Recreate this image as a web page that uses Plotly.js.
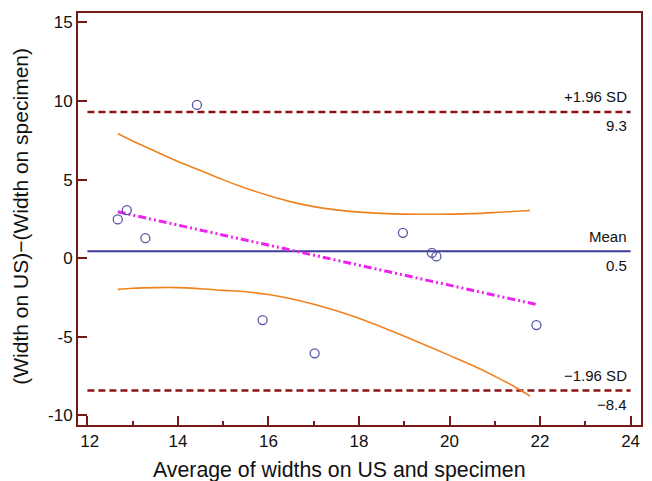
<!DOCTYPE html>
<html>
<head>
<meta charset="utf-8">
<script src="https://cdn.plot.ly/plotly-3.0.1.min.js"></script>
<style>html,body{margin:0;padding:0;background:#fff;}#chart{width:652px;height:481px;}</style>
</head>
<body>
<div id="chart"></div>
<script>
// Observations: average of the two widths (x) and their difference (y)
var avgWidth = [12.67, 12.87, 13.28, 14.42, 15.87, 17.02, 18.97, 19.61, 19.71, 21.92];
var diffWidth = [2.46, 3.05, 1.27, 9.75, -3.94, -6.06, 1.61, 0.34, 0.11, -4.26];

// Mean difference and limits of agreement
var meanDiff = 0.44;
var upperLoA = 9.30;
var lowerLoA = -8.42;
var limitSpan = [12, 24];
var limitTitles = ["+1.96 SD", "Mean", "\u22121.96 SD"];
var limitValues = ["9.3", "0.5", "\u22128.4"];

// Regression line of difference on average
var regX = [12.67, 21.92];
var regY = [2.95, -2.95];

// Confidence curves of the regression line
var ciX = [12.67, 13.0, 13.5, 14.0, 14.5, 15.0, 15.5, 16.0, 16.5, 17.0, 17.5, 18.0, 18.5, 19.0, 19.5, 20.0, 20.5, 21.0, 21.4, 21.78];
var ciUpperY = [7.93, 7.45, 6.80, 6.15, 5.58, 4.98, 4.45, 3.98, 3.58, 3.28, 3.07, 2.93, 2.85, 2.80, 2.79, 2.80, 2.83, 2.90, 2.97, 3.03];
var ciLowerY = [-1.99, -1.92, -1.88, -1.88, -1.95, -2.05, -2.14, -2.32, -2.58, -2.93, -3.35, -3.83, -4.38, -4.97, -5.57, -6.19, -6.82, -7.52, -8.12, -8.78];

// Axis ticks
var xTickVals = [12, 14, 16, 18, 20, 22, 24];
var xTickText = ["\u00a012", "14", "16", "18", "20", "22", "24"];
var yTickVals = [-10, -5, 0, 5, 10, 15];
var yTickText = ["-10", "-5", "0", "5", "10", "15"];

// Axis titles
var xTitle = "Average of widths on US and specimen";
var yTitle = "(Width on US)\u2212(Width on specimen)";

var axisColor = "#761818";
var sdColor = "#8a1414";
var fontFam = "'Liberation Sans', Arial, Helvetica, sans-serif";

var traces = [
  {x: limitSpan, y: [upperLoA, upperLoA], mode: "lines", line: {color: sdColor, width: 2.5, dash: "7px,4px"}, hoverinfo: "skip"},
  {x: limitSpan, y: [lowerLoA, lowerLoA], mode: "lines", line: {color: sdColor, width: 2.5, dash: "7px,4px"}, hoverinfo: "skip"},
  {x: limitSpan, y: [meanDiff, meanDiff], mode: "lines", line: {color: "#3c3c98", width: 2}, hoverinfo: "skip"},
  {x: ciX, y: ciUpperY, mode: "lines", line: {color: "#f0821e", width: 1.6, shape: "spline", smoothing: 1}, hoverinfo: "skip"},
  {x: ciX, y: ciLowerY, mode: "lines", line: {color: "#f0821e", width: 1.6, shape: "spline", smoothing: 1}, hoverinfo: "skip"},
  {x: regX, y: regY, mode: "lines", line: {color: "#ee22ee", width: 3, dash: "8px,3px,2px,3px,2px,3px"}, hoverinfo: "skip"},
  {x: avgWidth, y: diffWidth, mode: "markers", marker: {symbol: "circle-open", size: 9, color: "#5656a6", line: {width: 1.3, color: "#5656a6"}}}
];

var levels = [upperLoA, meanDiff, lowerLoA];
var annotations = [];
for (var i = 0; i < levels.length; i++) {
  annotations.push({x: limitSpan[1], y: levels[i], xref: "x", yref: "y", text: limitTitles[i], showarrow: false, xanchor: "right", yanchor: "middle", xshift: -2, yshift: 15, font: {family: fontFam, size: 15, color: "#111"}});
  annotations.push({x: limitSpan[1], y: levels[i], xref: "x", yref: "y", text: limitValues[i], showarrow: false, xanchor: "right", yanchor: "middle", xshift: -2, yshift: -14, font: {family: fontFam, size: 15, color: "#111"}});
}
annotations.push({x: 0.4636, y: -0.1092, xref: "paper", yref: "paper", text: xTitle, showarrow: false, xanchor: "center", yanchor: "middle", font: {family: fontFam, size: 21.3, color: "#111"}});
annotations.push({x: -0.1012, y: 0.5056, xref: "paper", yref: "paper", text: yTitle, textangle: -90, showarrow: false, xanchor: "center", yanchor: "middle", font: {family: fontFam, size: 21, color: "#111"}});

var layout = {
  width: 652, height: 481,
  margin: {l: 78, r: 11, t: 13, b: 56},
  paper_bgcolor: "#fff", plot_bgcolor: "#fff",
  showlegend: false,
  font: {family: fontFam, color: "#111"},
  xaxis: {
    range: [11.792, 24.23], showgrid: false, zeroline: false,
    showline: true, linecolor: axisColor, linewidth: 2, mirror: true,
    ticks: "inside", ticklen: 9, tickwidth: 2, tickcolor: axisColor,
    tickmode: "array", tickvals: xTickVals, ticktext: xTickText,
    tickfont: {family: fontFam, size: 17, color: "#111"},
    minor: {ticks: "inside", ticklen: 4, tickwidth: 2, tickcolor: axisColor, dtick: 1, showgrid: false}
  },
  yaxis: {
    range: [-10.62, 15.6], showgrid: false, zeroline: false,
    showline: true, linecolor: axisColor, linewidth: 2, mirror: true,
    ticks: "inside", ticklen: 9, tickwidth: 2, tickcolor: axisColor,
    tickmode: "array", tickvals: yTickVals, ticktext: yTickText,
    tickfont: {family: fontFam, size: 17, color: "#111"}
  },
  annotations: annotations
};

Plotly.newPlot("chart", traces, layout, {displayModeBar: false, staticPlot: true});
</script>
</body>
</html>
